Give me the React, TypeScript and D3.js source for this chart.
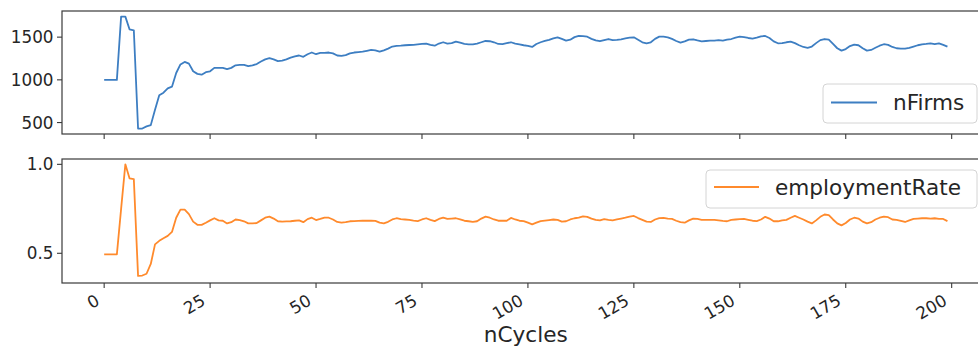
import React from "react";
import * as d3 from "d3";

const nFirms: number[] = [
  1000, 1000, 1000, 1000, 1740, 1740, 1590, 1580, 430, 430,
  455, 470, 650, 820, 850, 900, 920, 1080, 1180, 1210,
  1190, 1100, 1070, 1060, 1090, 1100, 1140, 1140, 1140, 1125,
  1140, 1170, 1175, 1175, 1160, 1170, 1185, 1215, 1240, 1255,
  1240, 1220, 1225, 1240, 1260, 1275, 1285, 1270, 1300, 1320,
  1300, 1315, 1315, 1320, 1310, 1285, 1280, 1290, 1310, 1320,
  1325, 1330, 1340, 1350, 1345, 1330, 1345, 1365, 1390, 1398,
  1400, 1405, 1408, 1410, 1415, 1420, 1425, 1410, 1400, 1425,
  1440, 1425, 1430, 1447, 1435, 1420, 1415, 1415, 1425, 1440,
  1455, 1452, 1440, 1420, 1418, 1430, 1440, 1425, 1415, 1405,
  1398, 1385, 1420, 1440, 1455, 1467, 1485, 1498, 1480, 1460,
  1470, 1500, 1514, 1512, 1505, 1480, 1462, 1452, 1465, 1478,
  1465, 1468, 1475, 1485, 1495, 1498, 1470, 1440, 1428, 1440,
  1480, 1506, 1505, 1498, 1480, 1455, 1436, 1450, 1470, 1475,
  1462, 1451, 1455, 1460, 1459, 1465, 1460, 1470, 1478, 1495,
  1506, 1500, 1490, 1483, 1495, 1510, 1514, 1490, 1450, 1428,
  1430, 1440, 1447, 1430, 1405, 1385, 1375, 1390, 1430, 1465,
  1478, 1470, 1420, 1370, 1342, 1360, 1395, 1413, 1405, 1370,
  1342, 1350, 1375, 1400, 1417, 1410, 1385, 1370, 1365, 1366,
  1375, 1390, 1405, 1415, 1420, 1428, 1418, 1428, 1410, 1389,
];

const employmentRate: number[] = [
  0.494, 0.494, 0.494, 0.494, 0.75, 1.0, 0.921, 0.917, 0.373, 0.375,
  0.385, 0.44, 0.55, 0.57, 0.585, 0.598, 0.62, 0.7, 0.745, 0.745,
  0.72, 0.678, 0.66, 0.66, 0.672, 0.685, 0.697, 0.685, 0.683, 0.668,
  0.675, 0.69, 0.687, 0.68, 0.668, 0.668, 0.67, 0.685, 0.7, 0.706,
  0.695, 0.68, 0.678, 0.679, 0.68, 0.683, 0.685, 0.675, 0.692, 0.7,
  0.687, 0.693, 0.7, 0.7, 0.69, 0.676, 0.672, 0.675, 0.68, 0.681,
  0.682, 0.683, 0.683, 0.683, 0.682, 0.672, 0.668, 0.677, 0.69, 0.697,
  0.692, 0.69, 0.688, 0.684, 0.681, 0.69, 0.697, 0.688, 0.681, 0.693,
  0.7, 0.693, 0.695, 0.697, 0.69, 0.683, 0.68, 0.677, 0.68, 0.695,
  0.706, 0.7, 0.69, 0.683, 0.683, 0.683, 0.699, 0.69, 0.683, 0.681,
  0.672, 0.663, 0.672, 0.681, 0.684, 0.687, 0.69, 0.688, 0.678, 0.68,
  0.69, 0.697, 0.7, 0.708, 0.705, 0.695, 0.688, 0.685, 0.692, 0.688,
  0.685, 0.69, 0.695, 0.7, 0.706, 0.71, 0.698, 0.688, 0.678, 0.676,
  0.69, 0.698, 0.699, 0.695, 0.693, 0.683, 0.675, 0.672, 0.685, 0.695,
  0.693, 0.688, 0.688, 0.688, 0.688, 0.685, 0.682, 0.68, 0.688, 0.69,
  0.692, 0.693, 0.688, 0.683, 0.681, 0.69, 0.705, 0.695, 0.68, 0.68,
  0.685, 0.688, 0.7, 0.71, 0.7, 0.69, 0.678, 0.668, 0.685, 0.705,
  0.718, 0.715, 0.69, 0.668, 0.657, 0.67, 0.69, 0.7, 0.695, 0.678,
  0.668, 0.675, 0.69, 0.7, 0.706, 0.703, 0.69, 0.688, 0.682, 0.676,
  0.685, 0.693, 0.695, 0.697, 0.697, 0.695, 0.697, 0.694, 0.693, 0.681,
];

const xTicks: number[] = [0, 25, 50, 75, 100, 125, 150, 175, 200];
const topTicks: number[] = [500, 1000, 1500];
const bottomTicks: number[] = [0.5, 1.0];
const bottomTickLabels: string[] = ["0.5", "1.0"];
const xLabel = "nCycles";
const seriesNames: string[] = ["nFirms", "employmentRate"];

const W = 978;
const H = 347;
const FONT = "'DejaVu Sans', sans-serif";
const BLUE = "#3d7ec2";
const ORANGE = "#ff8a2c";
const SPINE = "#3a3a3a";

export default function App() {
  const left = 62;
  const right = 989.6;
  const top1 = 11, bot1 = 134;
  const top2 = 159, bot2 = 283;

  const x = d3.scaleLinear().domain([-9.95, 208.95]).range([left, right]);
  const y1 = d3.scaleLinear().domain([366, 1806]).range([bot1, top1]);
  const y2 = d3.scaleLinear().domain([0.333, 1.03]).range([bot2, top2]);

  const line1 = d3.line<number>().x((_, i) => x(i)).y((d) => y1(d))(nFirms) || "";
  const line2 = d3.line<number>().x((_, i) => x(i)).y((d) => y2(d))(employmentRate) || "";

  const frame = (t: number, b: number) => (
    <rect x={left} y={t} width={right - left} height={b - t} fill="none" stroke={SPINE} strokeWidth={1.2} />
  );

  const xTickMarks = (b: number) =>
    xTicks.map((t) => (
      <line key={t} x1={x(t)} x2={x(t)} y1={b} y2={b + 5} stroke={SPINE} strokeWidth={1.1} />
    ));

  return (
    <svg
      width={W}
      height={H}
      style={{ position: "absolute", left: 0, top: 0, background: "#fff" }}
      fontFamily={FONT}
    >
      <rect x={0} y={0} width={W} height={H} fill="#fff" />
      <defs>
        <clipPath id="c1">
          <rect x={left} y={top1} width={right - left} height={bot1 - top1} />
        </clipPath>
        <clipPath id="c2">
          <rect x={left} y={top2} width={right - left} height={bot2 - top2} />
        </clipPath>
      </defs>

      {/* top panel */}
      <path d={line1} fill="none" stroke={BLUE} strokeWidth={1.8} clipPath="url(#c1)" strokeLinejoin="round" />
      {frame(top1, bot1)}
      {xTickMarks(bot1)}
      {topTicks.map((t) => (
        <g key={t}>
          <line x1={left - 5} x2={left} y1={y1(t)} y2={y1(t)} stroke={SPINE} strokeWidth={1.1} />
          <text x={left - 8.5} y={y1(t)} textAnchor="end" dominantBaseline="central" fontSize={16.8} fill="#262626">
            {t}
          </text>
        </g>
      ))}
      <g>
        <rect x={823} y={84} width={154} height={39} rx={4} fill="#fff" fillOpacity={0.8} stroke="#d4d4d4" strokeWidth={1} />
        <line x1={831} x2={877} y1={102.5} y2={102.5} stroke={BLUE} strokeWidth={1.8} />
        <text x={893} y={102.5} dominantBaseline="central" fontSize={21.6} fill="#262626">
          {seriesNames[0]}
        </text>
      </g>

      {/* bottom panel */}
      <path d={line2} fill="none" stroke={ORANGE} strokeWidth={1.8} clipPath="url(#c2)" strokeLinejoin="round" />
      {frame(top2, bot2)}
      {xTickMarks(bot2)}
      {bottomTicks.map((t, i) => (
        <g key={t}>
          <line x1={left - 5} x2={left} y1={y2(t)} y2={y2(t)} stroke={SPINE} strokeWidth={1.1} />
          <text x={left - 8.5} y={y2(t)} textAnchor="end" dominantBaseline="central" fontSize={16.8} fill="#262626">
            {bottomTickLabels[i]}
          </text>
        </g>
      ))}
      <g>
        <rect x={706} y={170} width={271} height={38} rx={4} fill="#fff" fillOpacity={0.8} stroke="#d4d4d4" strokeWidth={1} />
        <line x1={714} x2={759} y1={187} y2={187} stroke={ORANGE} strokeWidth={1.8} />
        <text x={775} y={187} dominantBaseline="central" fontSize={21.6} fill="#262626">
          {seriesNames[1]}
        </text>
      </g>

      {xTicks.map((t) => {
        const ax = x(t) - 3.5;
        const ay = 304;
        return (
          <text
            key={t}
            x={ax}
            y={ay}
            textAnchor="end"
            fontSize={16.8}
            fill="#262626"
            transform={`rotate(-30, ${ax}, ${ay})`}
          >
            {t}
          </text>
        );
      })}
      <text x={(left + right) / 2} y={342} textAnchor="middle" fontSize={21.6} fill="#262626">
        {xLabel}
      </text>
    </svg>
  );
}
